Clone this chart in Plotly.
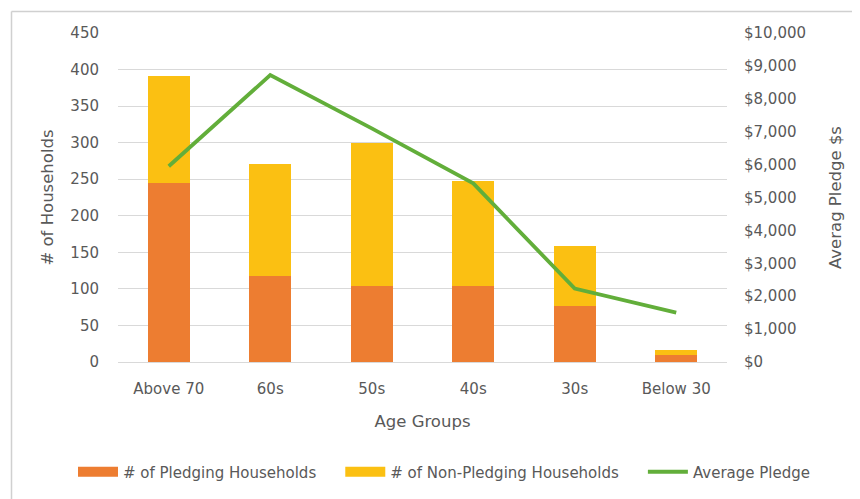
import plotly.graph_objects as go

categories = ["Above 70", "60s", "50s", "40s", "30s", "Below 30"]
pledging = [245, 117, 104, 104, 77, 9]
non_pledging = [146, 154, 196, 143, 81, 7]
avg_pledge = [5950, 8720, 7100, 5430, 2230, 1500]
series_names = ["# of Pledging Households", "# of Non-Pledging Households", "Average Pledge"]

ORANGE = "#ED7D31"
YELLOW = "#FBC012"
GREEN = "#62AE3A"
TXT = "#595959"
GRID = "#D9D9D9"
FONT = "DejaVu Sans"

OFF = 8  # page body margin
W, H = 860 - OFF, 499 - OFF
# target pixel positions in the window
PL, PR, PT, PB = 118, 727, 33, 362
L, R, T, B = PL - OFF, (860 - PR), PT - OFF, (499 - PB)
pw, ph = W - L - R, H - T - B

fig = go.Figure()
fig.add_trace(go.Bar(x=categories, y=pledging, name=series_names[0],
                     marker=dict(color=ORANGE, line=dict(width=0)), showlegend=False))
fig.add_trace(go.Bar(x=categories, y=non_pledging, name=series_names[1],
                     marker=dict(color=YELLOW, line=dict(width=0)), showlegend=False))
fig.add_trace(go.Scatter(x=categories, y=avg_pledge, name=series_names[2], mode="lines",
                         line=dict(color=GREEN, width=3.8), yaxis="y2", showlegend=False))

# legend entries (wide swatches like the original)
PAD = "\u00a0\u00a0\u00a0\u00a0"
for nm, col, w, pad in [(series_names[0], ORANGE, 10, PAD),
                        (series_names[1], YELLOW, 10, PAD),
                        (series_names[2], GREEN, 3.8, "")]:
    fig.add_trace(go.Scatter(x=[None], y=[None], mode="lines", name=nm + pad,
                             line=dict(color=col, width=w), showlegend=True))

fig.update_layout(
    width=W, height=H,
    margin=dict(l=L, r=R, t=T, b=B, autoexpand=False),
    barmode="stack", bargap=0.59,
    plot_bgcolor="white", paper_bgcolor="white",
    font=dict(family=FONT, size=15, color=TXT),
    xaxis=dict(title=dict(text="Age Groups", font=dict(size=16.5, color=TXT), standoff=18),
               showgrid=False, showline=False, ticks="", ticklabelstandoff=16,
               tickfont=dict(size=15, color=TXT), automargin=False),
    yaxis=dict(title=dict(text="# of Households", font=dict(size=16.5, color=TXT), standoff=12),
               range=[0, 450], dtick=50, showgrid=True, gridcolor=GRID, gridwidth=1,
               zeroline=True, zerolinecolor=GRID, zerolinewidth=1,
               showline=False, ticks="", ticklabelstandoff=18,
               tickfont=dict(size=15, color=TXT), automargin=False),
    yaxis2=dict(title=dict(text="Averag Pledge $s", font=dict(size=16.5, color=TXT), standoff=24),
                overlaying="y", side="right", range=[0, 10000], dtick=1000,
                tickprefix="$", tickformat=",d", showgrid=False, zeroline=False,
                showline=False, ticks="", ticklabelstandoff=16,
                tickfont=dict(size=15, color=TXT), automargin=False),
    legend=dict(orientation="h", x=(815 - PL) / pw, xanchor="right",
                y=-(472 - PB) / ph, yanchor="middle",
                font=dict(size=15, color=TXT), itemwidth=40, bgcolor="rgba(0,0,0,0)",
                traceorder="normal"),
)

# chart border (top and left visible)
bx = (11.5 - PL) / pw
by = 1 + (PT - 11.5) / ph
fig.add_shape(type="line", xref="paper", yref="paper",
              x0=bx, x1=(870 - PL) / pw, y0=by, y1=by,
              line=dict(color="#D0D0D0", width=1.5), layer="below")
fig.add_shape(type="line", xref="paper", yref="paper",
              x0=bx, x1=bx, y0=by, y1=-(510 - PB) / ph,
              line=dict(color="#D0D0D0", width=1.5), layer="below")

fig.write_html("out.html")
